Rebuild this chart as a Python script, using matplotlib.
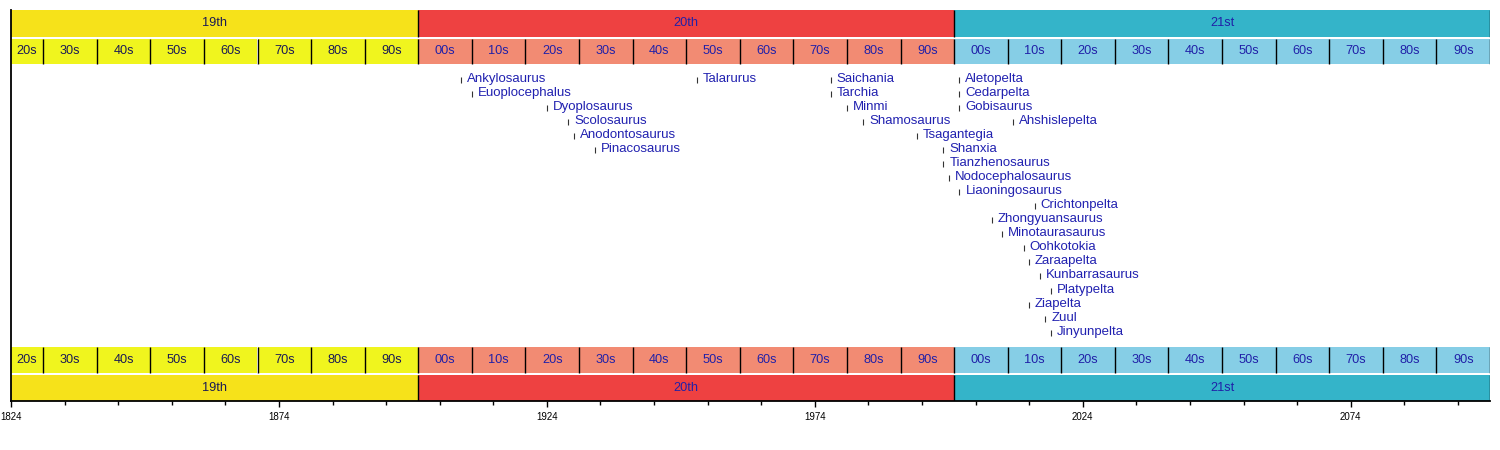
import matplotlib
matplotlib.use("Agg")
import matplotlib.pyplot as plt
from matplotlib.ticker import FixedLocator

plt.rcParams['font.family'] = ['Liberation Sans', 'DejaVu Sans']

# ---------------- data ----------------
centuries = ['19th', '20th', '21st']
century_starts = [1824, 1900, 2000]
century_ends = [1900, 2000, 2100]

decade_labels = ['20s', '30s', '40s', '50s', '60s', '70s', '80s', '90s',
                 '00s', '10s', '20s', '30s', '40s', '50s', '60s', '70s', '80s', '90s',
                 '00s', '10s', '20s', '30s', '40s', '50s', '60s', '70s', '80s', '90s']
decade_starts = [1824, 1830, 1840, 1850, 1860, 1870, 1880, 1890,
                 1900, 1910, 1920, 1930, 1940, 1950, 1960, 1970, 1980, 1990,
                 2000, 2010, 2020, 2030, 2040, 2050, 2060, 2070, 2080, 2090]
decade_ends = decade_starts[1:] + [2100]
decade_century = [0] * 8 + [1] * 10 + [2] * 10

names = ['Ankylosaurus', 'Euoplocephalus', 'Dyoplosaurus', 'Scolosaurus', 'Anodontosaurus',
         'Pinacosaurus', 'Talarurus', 'Saichania', 'Tarchia', 'Minmi', 'Shamosaurus',
         'Tsagantegia', 'Shanxia', 'Tianzhenosaurus', 'Nodocephalosaurus', 'Liaoningosaurus',
         'Aletopelta', 'Cedarpelta', 'Gobisaurus', 'Ahshislepelta', 'Crichtonpelta',
         'Zhongyuansaurus', 'Minotaurasaurus', 'Oohkotokia', 'Zaraapelta', 'Kunbarrasaurus',
         'Platypelta', 'Ziapelta', 'Zuul', 'Jinyunpelta']
years = [1908, 1910, 1924, 1928, 1929,
         1933, 1952, 1977, 1977, 1980, 1983,
         1993, 1998, 1998, 1999, 2001,
         2001, 2001, 2001, 2011, 2015,
         2007, 2009, 2013, 2014, 2016,
         2018, 2014, 2017, 2018]
lanes = [0, 1, 2, 3, 4,
         5, 0, 0, 1, 2, 3,
         4, 5, 6, 7, 8,
         0, 1, 2, 3, 9,
         10, 11, 12, 13, 14,
         15, 16, 17, 18]

major_ticks = [1824, 1874, 1924, 1974, 2024, 2074]

# ---------------- style ----------------
century_colors = ['#F6E21A', '#EE4141', '#34B4C9']
decade_colors = ['#F0F51E', '#F28B73', '#86CEE6']
band_text = ['#1a1a55', '#2020A8', '#2020A8']
label_color = '#2121B0'

X0, X1 = 1824, 2100
W, H = 1500, 450
fig = plt.figure(figsize=(W / 100, H / 100), dpi=100)
top_px, bot_px, left_px, right_px = 10, 400.5, 11, 1490
ax = fig.add_axes([left_px / W, (H - bot_px) / H, (right_px - left_px) / W, (bot_px - top_px) / H])
ax.set_xlim(X0, X1)
ax.set_ylim(bot_px, top_px)   # y in pixel rows from the top

# band geometry (pixel rows)
bands = [
    ('century', 10, 36.5),
    ('decade', 38.5, 64),
    ('decade', 346.5, 372.5),
    ('century', 374.5, 400.5),
]
for kind, y0, y1 in bands:
    yc = (y0 + y1) / 2
    h = y1 - y0
    if kind == 'century':
        for lab, s, e, col, tc in zip(centuries, century_starts, century_ends, century_colors, band_text):
            ax.barh(yc, e - s, left=s, height=h, color=col, edgecolor='none', zorder=1)
            ax.text((s + e) / 2, yc, lab, ha='center', va='center', fontsize=9.2, color=tc, zorder=3)
        ax.vlines(century_starts[1:] + [century_ends[-1]], y0, y1, color='black', lw=1, zorder=2)
    else:
        for lab, s, e, ci in zip(decade_labels, decade_starts, decade_ends, decade_century):
            ax.barh(yc, e - s, left=s, height=h, color=decade_colors[ci], edgecolor='none', zorder=1)
            ax.text((s + e) / 2, yc, lab, ha='center', va='center', fontsize=9.2, color=band_text[ci], zorder=3)
        ax.vlines(decade_starts[1:] + [decade_ends[-1]], y0, y1, color='black', lw=1, zorder=2)

# event labels
lane0, lane_step = 78.5, 14.07
for name, yr, ln in zip(names, years, lanes):
    y = lane0 + ln * lane_step
    ax.plot([yr], [y + 1], marker='|', markersize=4.5, mew=0.8, color='#333333', zorder=3)
    ax.annotate(name, xy=(yr, y), xytext=(4.3, 0), textcoords='offset points',
                ha='left', va='center', fontsize=9.5, color=label_color, zorder=3)

# axes styling
for sp in ['top', 'right']:
    ax.spines[sp].set_visible(False)
ax.spines['left'].set_linewidth(1.3)
ax.spines['bottom'].set_linewidth(1.3)
ax.set_yticks([])
ax.xaxis.set_major_locator(FixedLocator(major_ticks))
ax.xaxis.set_minor_locator(FixedLocator([y for y in range(1834, 2100, 10) if y not in major_ticks]))
ax.set_xticklabels([str(t) for t in major_ticks])
ax.tick_params(axis='x', which='major', length=4, width=1, labelsize=7, pad=4)
ax.tick_params(axis='x', which='minor', length=3, width=1)

fig.savefig('out.png', dpi=100, facecolor='white')
